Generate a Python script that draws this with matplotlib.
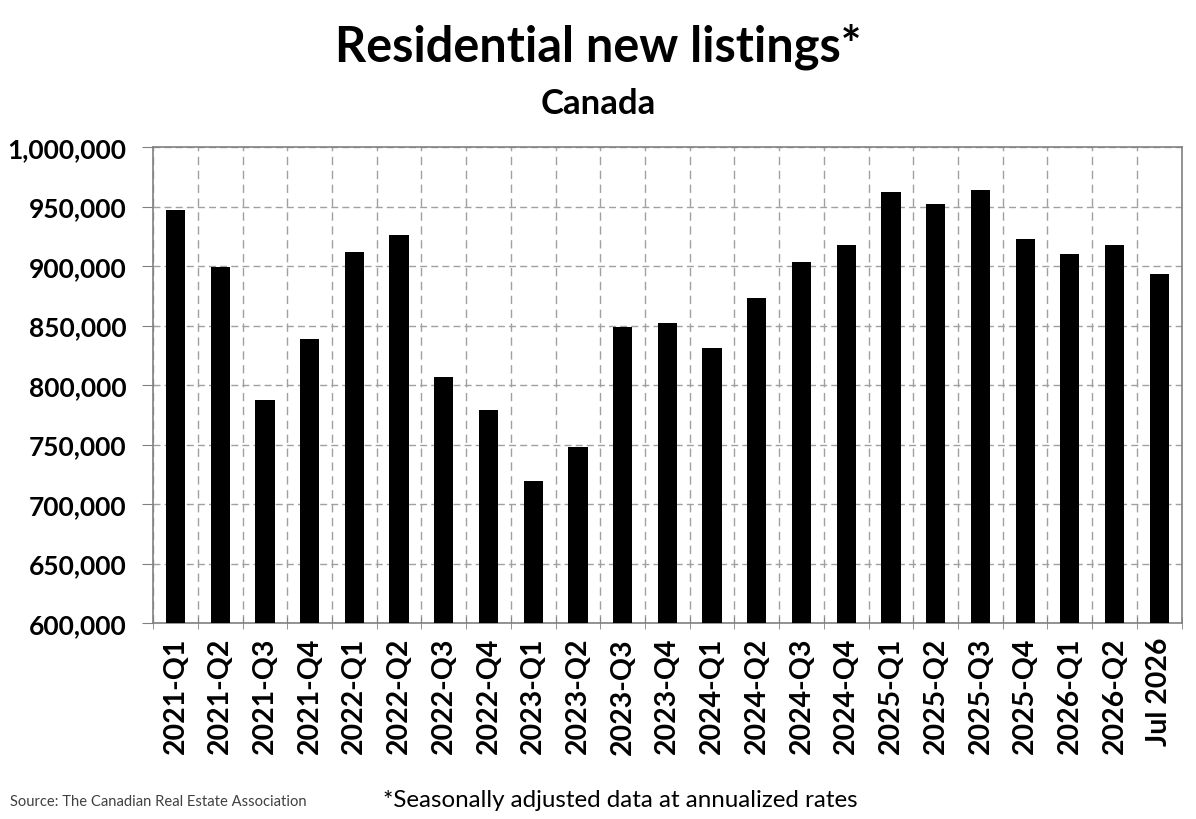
import matplotlib
matplotlib.use("Agg")
import matplotlib.pyplot as plt
from matplotlib.ticker import FuncFormatter, MultipleLocator
import numpy as np

categories = ["2021-Q1", "2021-Q2", "2021-Q3", "2021-Q4", "2022-Q1", "2022-Q2",
              "2022-Q3", "2022-Q4", "2023-Q1", "2023-Q2", "2023-Q3", "2023-Q4",
              "2024-Q1", "2024-Q2", "2024-Q3", "2024-Q4", "2025-Q1", "2025-Q2",
              "2025-Q3", "2025-Q4", "2026-Q1", "2026-Q2", "Jul 2026"]
values = [947000, 899000, 787000, 839000, 912000, 926000,
          807000, 779000, 719000, 748000, 849000, 852000,
          831000, 873000, 903000, 918000, 962000, 952000,
          964000, 923000, 910000, 918000, 893000]

FONT = ["Lato", "DejaVu Sans"]
plt.rcParams["font.family"] = FONT

fig = plt.figure(figsize=(11.96, 8.2), dpi=100)
ax = fig.add_axes([0.128, 0.239, 0.86, 0.5805])

x = np.arange(len(categories))
ax.bar(x, values, width=0.43, color="black", zorder=3)

ax.set_xlim(-0.5, len(categories) - 0.5)
ax.set_ylim(600000, 1000000)
ax.yaxis.set_major_locator(MultipleLocator(50000))
ax.yaxis.set_major_formatter(FuncFormatter(lambda v, p: f"{int(v):,}"))

ax.set_xticks(x)
ax.set_xticklabels(categories, rotation=90, fontsize=20.5, fontweight="bold")
ax.set_xticks(np.arange(-0.5, len(categories), 1), minor=True)
ax.tick_params(axis="x", which="major", length=0, pad=10)
ax.tick_params(axis="x", which="minor", length=8, direction="inout", color="#808080")
ax.tick_params(axis="y", labelsize=19, length=8, color="#808080", pad=11)
for lbl in ax.get_yticklabels():
    lbl.set_fontweight("bold")

ax.grid(axis="y", which="major", linestyle=(0, (5, 3)), color="#a0a0a0", linewidth=1, zorder=0)
ax.grid(axis="x", which="minor", linestyle=(0, (6, 4)), color="#a0a0a0", linewidth=1, zorder=0)
ax.grid(axis="x", which="major", visible=False)

for s in ax.spines.values():
    s.set_color("#808080")
    s.set_linewidth(1.2)

fig.text(0.5, 0.943, "Residential new listings*", ha="center", va="center",
         fontsize=35, fontweight="bold")
fig.text(0.5, 0.873, "Canada", ha="center", va="center",
         fontsize=25, fontweight="bold")
fig.text(0.008, 0.022, "Source: The Canadian Real Estate Association", ha="left", va="center",
         fontsize=10.6, color="#404040")
fig.text(0.519, 0.024, "*Seasonally adjusted data at annualized rates", ha="center", va="center",
         fontsize=17.4)

fig.savefig("out.png", dpi=100)
